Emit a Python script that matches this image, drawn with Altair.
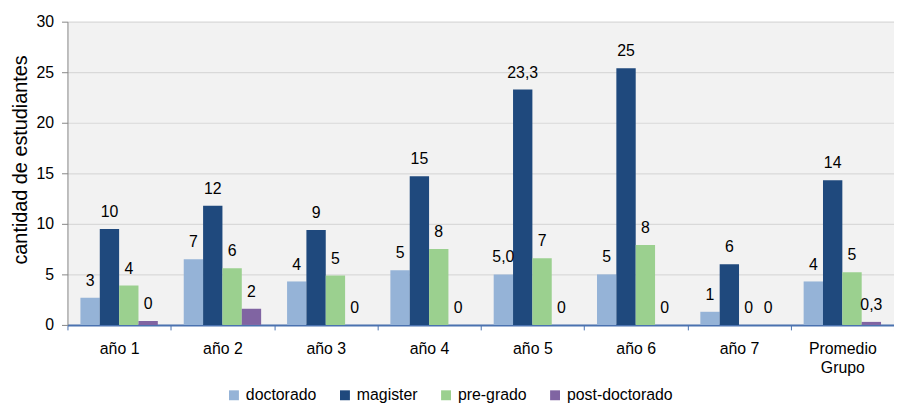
import altair as alt
import pandas as pd

categories = ["año 1", "año 2", "año 3", "año 4", "año 5", "año 6", "año 7", "Promedio Grupo"]
series = ["doctorado", "magister", "pre-grado", "post-doctorado"]

doctorado = [2.7, 6.5, 4.3, 5.4, 5.0, 5.0, 1.3, 4.3]
magister = [9.5, 11.8, 9.4, 14.7, 23.3, 25.4, 6.0, 14.3]
pregrado = [3.9, 5.6, 4.9, 7.5, 6.6, 7.9, 0.0, 5.2]
postdoc = [0.4, 1.6, 0.0, 0.0, 0.0, 0.0, 0.0, 0.3]

lab_doctorado = ["3", "7", "4", "5", "5,0", "5", "1", "4"]
lab_magister = ["10", "12", "9", "15", "23,3", "25", "6", "14"]
lab_pregrado = ["4", "6", "5", "8", "7", "8", "0", "5"]
lab_postdoc = ["0", "2", "0", "0", "0", "0", "0", "0,3"]

colors = ["#95B3D7", "#1F497D", "#9BD08F", "#8064A2"]

rows = []
for s, vals, labs in zip(series,
                         [doctorado, magister, pregrado, postdoc],
                         [lab_doctorado, lab_magister, lab_pregrado, lab_postdoc]):
    for c, v, l in zip(categories, vals, labs):
        rows.append({"cat": c, "serie": s, "valor": v, "etiqueta": l})
df = pd.DataFrame(rows)

FONT = "Liberation Sans"

x = alt.X(
    "cat:N", sort=categories,
    scale=alt.Scale(paddingInner=0, paddingOuter=0),
    axis=alt.Axis(
        title=None, labelAngle=0, labelFont=FONT, labelFontSize=16, labelColor="#000000",
        labelBaseline="middle", labelPadding=19, tickBand="extent", tickSize=5,
        tickColor="#4A72B0", domainColor="#4A72B0", domainWidth=2, grid=False,
        labelExpr="datum.label == 'Promedio Grupo' ? ['Promedio', 'Grupo'] : datum.label",
        labelLineHeight=19,
    ),
)
xo = alt.XOffset("serie:N", sort=series,
                 scale=alt.Scale(domain=series, paddingInner=0, paddingOuter=0.67))
y = alt.Y(
    "valor:Q",
    scale=alt.Scale(domain=[0, 30], nice=False),
    axis=alt.Axis(
        values=[0, 5, 10, 15, 20, 25, 30], title="cantidad de estudiantes",
        labelFont=FONT, labelFontSize=16, labelColor="#000000", labelPadding=8,
        tickSize=6, tickColor="#868686", domainColor="#868686",
        gridColor="#D9D9D9", gridWidth=1.2,
        titleFont=FONT, titleFontSize=20, titleFontWeight="normal", titleColor="#000000",
        titleX=-47, titleY=139, titleAngle=270, titleAlign="center", titleBaseline="middle",
    ),
)
color = alt.Color(
    "serie:N", sort=series,
    scale=alt.Scale(domain=series, range=colors),
    legend=alt.Legend(
        orient="none", direction="horizontal", legendX=160, legendY=369, title=None,
        symbolType="square", symbolSize=100, symbolStrokeWidth=0,
        labelFont=FONT, labelFontSize=16, labelColor="#000000",
        columnPadding=20, labelOffset=4,
    ),
)

bars = alt.Chart(df).mark_bar().encode(x=x, xOffset=xo, y=y, color=color)
text = alt.Chart(df).mark_text(dy=-17, baseline="middle", fontSize=16, font=FONT, color="#000000").encode(
    x=x, xOffset=xo, y=y, text="etiqueta:N"
)

chart = alt.layer(bars, text).properties(
    width=834, height=306,
    padding={"left": 60, "top": 12, "right": 0, "bottom": 78},
    autosize=alt.AutoSizeParams(type="none"),
).configure_view(fill="#F2F2F2", stroke=None)

chart.save("out.html", embed_options={"renderer": "svg", "actions": False})
